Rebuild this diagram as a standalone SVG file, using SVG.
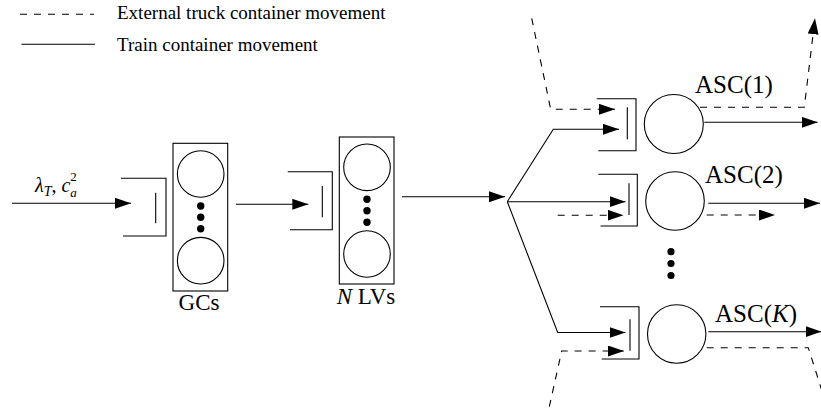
<svg xmlns="http://www.w3.org/2000/svg" width="821" height="411" viewBox="0 0 821 411">
<style>
.ln{fill:none;stroke:#000;stroke-width:1.1}
.ds{fill:none;stroke:#000;stroke-width:1.1;stroke-dasharray:7 7}
.sv{fill:#fff;stroke:#000;stroke-width:1.1}
.dot{fill:#000}
text{font-family:"Liberation Serif","Times New Roman",serif;fill:#000}
.lab{font-size:25px}
.nl{font-size:23px}
.leg{font-size:19px}
</style>
<defs>
<marker id="ah" markerUnits="userSpaceOnUse" markerWidth="17" markerHeight="12" refX="16" refY="5.5" orient="auto">
<path d="M0,0 L16,5.5 L0,11 z" fill="#000" stroke="none"/>
</marker>
</defs>
<rect width="821" height="411" fill="#fff"/>
<g id="legend">
<line class="ds" x1="20" y1="14.3" x2="94" y2="14.3"/>
<text class="leg" x="117" y="19">External truck container movement</text>
<line class="ln" x1="21.5" y1="44.3" x2="95" y2="44.3"/>
<text class="leg" x="117" y="50.5">Train container movement</text>
</g>
<g id="gc-queue">
<path class="ln" d="M121,178.3 H166 V236 H123"/>
<line class="ln" x1="155.7" y1="192.7" x2="155.7" y2="223.3"/>
</g>
<g id="gcs">
<rect class="sv" x="173" y="143.3" width="54.7" height="147.7"/>
<circle class="sv" cx="200.7" cy="174" r="23.3"/>
<circle class="sv" cx="200.7" cy="260.7" r="23.3"/>
<circle class="dot" cx="200.7" cy="206" r="3.7"/>
<circle class="dot" cx="200.7" cy="217.3" r="3.7"/>
<circle class="dot" cx="200.7" cy="228.7" r="3.7"/>
<text class="nl" x="199" y="310" text-anchor="middle">GCs</text>
</g>
<g id="lv-queue">
<path class="ln" d="M287.7,171.7 H332.3 V229.7 H290"/>
<line class="ln" x1="322.3" y1="186" x2="322.3" y2="217.3"/>
</g>
<g id="lvs">
<rect class="sv" x="339.3" y="137" width="54.7" height="147"/>
<circle class="sv" cx="367" cy="167.3" r="23.3"/>
<circle class="sv" cx="367" cy="254" r="23.3"/>
<circle class="dot" cx="367" cy="199.3" r="3.7"/>
<circle class="dot" cx="367" cy="210.7" r="3.7"/>
<circle class="dot" cx="367" cy="222.3" r="3.7"/>
<text class="nl" x="336.7" y="304"><tspan font-style="italic">N</tspan> LVs</text>
</g>
<g id="asc1">
<path class="ln" d="M596.7,98.7 H636 V150.7 H598.3"/>
<line class="ln" x1="627.3" y1="107.3" x2="627.3" y2="139.3"/>
<circle class="sv" cx="673.8" cy="124" r="29.5"/>
<text class="lab" x="695" y="93">ASC(1)</text>
</g>
<g id="asc2">
<path class="ln" d="M598.3,174.2 H637.3 V226 H600.5"/>
<line class="ln" x1="629" y1="183.3" x2="629" y2="215"/>
<circle class="sv" cx="675" cy="201" r="29.3"/>
<text class="lab" x="705" y="182.5">ASC(2)</text>
</g>
<g id="asc-dots">
<circle class="dot" cx="671" cy="251.7" r="3.6"/>
<circle class="dot" cx="671" cy="263.5" r="3.6"/>
<circle class="dot" cx="671" cy="275.5" r="3.6"/>
</g>
<g id="ascK">
<path class="ln" d="M600,306.7 H639 V359 H601.7"/>
<line class="ln" x1="630" y1="319.3" x2="630" y2="350.7"/>
<circle class="sv" cx="676.7" cy="334" r="29.2"/>
<text class="lab" x="715" y="321.7">ASC(<tspan font-style="italic">K</tspan>)</text>
</g>
<g id="arrival-label">
<text x="35" y="192" font-size="20" font-style="italic">λ<tspan font-size="14" dy="4">T</tspan><tspan dy="-4" font-style="normal">, </tspan>c<tspan font-size="13" dy="-11" font-style="normal">2</tspan><tspan font-size="13" dx="-6.5" dy="16">a</tspan></text>
</g>
<g id="connectors">
<path class="ln" d="M12,203.3 H131" marker-end="url(#ah)"/>
<path class="ln" d="M236,204.3 H308.3" marker-end="url(#ah)"/>
<path class="ln" d="M402,196.7 H505" marker-end="url(#ah)"/>
<path class="ln" d="M507.3,201.7 L553.3,129.3 H619" marker-end="url(#ah)"/>
<path class="ln" d="M507.3,201.7 H625.5" marker-end="url(#ah)"/>
<path class="ln" d="M507.3,201.7 L557.7,332.5 H625.5" marker-end="url(#ah)"/>
<path class="ds" d="M531.7,18.3 L550.7,109.3 H615" marker-end="url(#ah)"/>
<path class="ds" d="M557.7,215.2 H623.5" marker-end="url(#ah)"/>
<path class="ds" d="M549.3,406.7 L561.7,351 H624" marker-end="url(#ah)"/>
<path class="ln" d="M704.3,122.3 H817.7" marker-end="url(#ah)"/>
<path class="ln" d="M708.3,203.3 H820" marker-end="url(#ah)"/>
<path class="ln" d="M708.3,331.7 H821.5" marker-end="url(#ah)"/>
<path class="ds" d="M700,107.3 H804.3 L815,18.3" marker-end="url(#ah)"/>
<path class="ds" d="M706.7,215 H775" marker-end="url(#ah)"/>
<path class="ds" d="M706.7,347.7 H808.3 L822,391"/>
</g>
</svg>
